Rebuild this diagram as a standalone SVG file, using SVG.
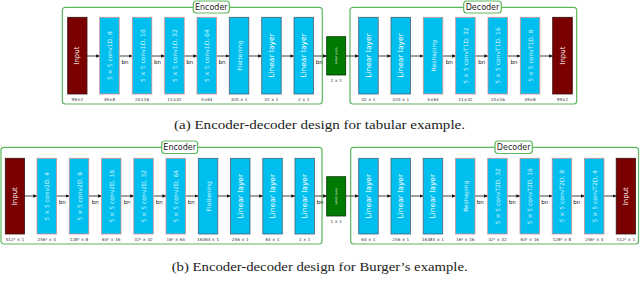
<svg xmlns="http://www.w3.org/2000/svg" width="640" height="292" viewBox="0 0 640 292">
<style>
.frame{fill:none;stroke:#5cb85c;stroke-width:1.2}
.tag{fill:#fff;stroke:#5cb85c;stroke-width:1.2}
.tagt{font-family:"DejaVu Sans","Liberation Sans",sans-serif;font-size:8px;fill:#222;text-anchor:middle}
.inp{fill:#7a0000;stroke:#3a1010;stroke-width:0.8}
.conv{fill:#00bfef;stroke:#d09090;stroke-width:0.8}
.lin{fill:#00bfef;stroke:#506070;stroke-width:0.8}
.lat{fill:#007a00;stroke:#003300;stroke-width:0.8}
.nt{font-family:"DejaVu Sans","Liberation Sans",sans-serif;fill:#fff;text-anchor:middle;dominant-baseline:central}
.ct{font-size:6px;fill:#d8f6ff}
.lt{font-size:7.5px}
.it{font-size:7px}
.st{font-size:2.6px}
.dim{font-family:"DejaVu Sans","Liberation Sans",sans-serif;font-size:4.2px;fill:#333;text-anchor:middle}
.bn{font-family:"DejaVu Sans","Liberation Sans",sans-serif;font-size:5.5px;fill:#111;text-anchor:middle}
.cap{font-family:"Liberation Serif","DejaVu Serif",serif;font-size:13.5px;fill:#222}
.ar{stroke:#444;stroke-width:1;fill:none;marker-end:url(#ah)}
</style>
<defs>
<marker id="ah" markerWidth="4" markerHeight="4" refX="3.6" refY="2" orient="auto" markerUnits="userSpaceOnUse">
<path d="M0,0.3 L3.8,2 L0,3.7 Z" fill="#111"/>
</marker>
</defs>

<!-- ===== (a) ===== -->
<g id="encoderA">
<rect class="frame" x="62.3" y="7.3" width="260" height="96.7" rx="3"/>
<rect class="tag" x="193.3" y="1" width="36" height="12" rx="3"/>
<text class="tagt" x="211.3" y="10">Encoder</text>
</g>
<g id="decoderA">
<rect class="frame" x="350" y="7.3" width="226.7" height="96.7" rx="3"/>
<rect class="tag" x="463.7" y="1" width="37.6" height="12" rx="3"/>
<text class="tagt" x="482.5" y="10">Decoder</text>
</g>

<g id="connectorsA">
<line class="ar" x1="87" y1="56" x2="99.7" y2="56"/>
<line class="ar" x1="119.2" y1="56" x2="132.3" y2="56"/>
<line class="ar" x1="151.8" y1="56" x2="164.7" y2="56"/>
<line class="ar" x1="184.2" y1="56" x2="197" y2="56"/>
<line class="ar" x1="216.5" y1="56" x2="229.3" y2="56"/>
<line class="ar" x1="248.8" y1="56" x2="261.7" y2="56"/>
<line class="ar" x1="281.2" y1="56" x2="294" y2="56"/>
<line class="ar" x1="313.5" y1="56" x2="326.7" y2="56"/>
<line class="ar" x1="345.7" y1="56" x2="358.7" y2="56"/>
<line class="ar" x1="378.2" y1="56" x2="391" y2="56"/>
<line class="ar" x1="410.5" y1="56" x2="423.3" y2="56"/>
<line class="ar" x1="442.8" y1="56" x2="455.7" y2="56"/>
<line class="ar" x1="475.2" y1="56" x2="488" y2="56"/>
<line class="ar" x1="507.5" y1="56" x2="520.3" y2="56"/>
<line class="ar" x1="539.8" y1="56" x2="552.7" y2="56"/>
<text class="bn" x="125" y="63.5">bn</text>
<text class="bn" x="157.5" y="63.5">bn</text>
<text class="bn" x="189.8" y="63.5">bn</text>
<text class="bn" x="222" y="63.5">bn</text>
<text class="bn" x="319.3" y="63.5">bn</text>
<text class="bn" x="449.3" y="63.5">bn</text>
<text class="bn" x="481.7" y="63.5">bn</text>
<text class="bn" x="514" y="63.5">bn</text>
</g>

<g id="a-input"><rect class="inp" x="67.7" y="17.3" width="19.3" height="76.7"/><text class="nt it" transform="translate(77.35,55.6) rotate(-90)">Input</text><text class="dim" x="77.35" y="101">99×2</text></g>
<g id="a-conv8"><rect class="conv" x="99.7" y="17.3" width="19.5" height="76.7"/><text class="nt ct" transform="translate(109.45,55.6) rotate(-90)">5 × 5 conv1D, 8</text><text class="dim" x="109.45" y="101">49×8</text></g>
<g id="a-conv16"><rect class="conv" x="132.3" y="17.3" width="19.5" height="76.7"/><text class="nt ct" transform="translate(142.05,55.6) rotate(-90)">5 × 5 conv1D, 16</text><text class="dim" x="142.05" y="101">24×16</text></g>
<g id="a-conv32"><rect class="conv" x="164.7" y="17.3" width="19.5" height="76.7"/><text class="nt ct" transform="translate(174.45,55.6) rotate(-90)">5 × 5 conv1D, 32</text><text class="dim" x="174.45" y="101">11×32</text></g>
<g id="a-conv64"><rect class="conv" x="197" y="17.3" width="19.5" height="76.7"/><text class="nt ct" transform="translate(206.75,55.6) rotate(-90)">5 × 5 conv1D, 64</text><text class="dim" x="206.75" y="101">5×64</text></g>
<g id="a-flat"><rect class="lin" x="229.3" y="17.3" width="19.5" height="76.7"/><text class="nt ct" transform="translate(239.05,55.6) rotate(-90)">Flattening</text><text class="dim" x="239.05" y="101">320 × 1</text></g>
<g id="a-lin1"><rect class="lin" x="261.7" y="17.3" width="19.5" height="76.7"/><text class="nt lt" transform="translate(271.45,55.6) rotate(-90)">Linear layer</text><text class="dim" x="271.45" y="101">32 × 1</text></g>
<g id="a-lin2"><rect class="lin" x="294" y="17.3" width="19.5" height="76.7"/><text class="nt lt" transform="translate(303.75,55.6) rotate(-90)">Linear layer</text><text class="dim" x="303.75" y="101">2 × 1</text></g>
<g id="a-latent"><rect class="lat" x="326.7" y="36.7" width="19" height="38.3"/><text class="nt st" transform="translate(336.2,55.8) rotate(-90)">Latent space</text><text class="dim" x="336.2" y="81.5">2 × 1</text></g>
<g id="a-dlin1"><rect class="lin" x="358.7" y="17.3" width="19.5" height="76.7"/><text class="nt lt" transform="translate(368.45,55.6) rotate(-90)">Linear layer</text><text class="dim" x="368.45" y="101">32 × 1</text></g>
<g id="a-dlin2"><rect class="lin" x="391" y="17.3" width="19.5" height="76.7"/><text class="nt lt" transform="translate(400.75,55.6) rotate(-90)">Linear layer</text><text class="dim" x="400.75" y="101">320 × 1</text></g>
<g id="a-resh"><rect class="conv" x="423.3" y="17.3" width="19.5" height="76.7"/><text class="nt ct" transform="translate(433.05,55.6) rotate(-90)">Reshaping</text><text class="dim" x="433.05" y="101">5×64</text></g>
<g id="a-ct32"><rect class="conv" x="455.7" y="17.3" width="19.5" height="76.7"/><text class="nt ct" transform="translate(465.45,55.6) rotate(-90)">5 × 5 convT1D, 32</text><text class="dim" x="465.45" y="101">11×32</text></g>
<g id="a-ct16"><rect class="conv" x="488" y="17.3" width="19.5" height="76.7"/><text class="nt ct" transform="translate(497.75,55.6) rotate(-90)">5 × 5 convT1D, 16</text><text class="dim" x="497.75" y="101">24×16</text></g>
<g id="a-ct8"><rect class="conv" x="520.3" y="17.3" width="19.5" height="76.7"/><text class="nt ct" transform="translate(530.05,55.6) rotate(-90)">5 × 5 convT1D, 8</text><text class="dim" x="530.05" y="101">49×8</text></g>
<g id="a-output"><rect class="inp" x="552.7" y="17.3" width="19.6" height="76.7"/><text class="nt it" transform="translate(562.5,55.6) rotate(-90)">Input</text><text class="dim" x="562.5" y="101">99×2</text></g>

<text class="cap" x="174" y="129" textLength="291" lengthAdjust="spacingAndGlyphs">(a) Encoder-decoder design for tabular example.</text>

<!-- ===== (b) ===== -->
<g id="encoderB">
<rect class="frame" x="1" y="147.3" width="321" height="96.7" rx="3"/>
<rect class="tag" x="161.7" y="141" width="36" height="12.5" rx="3"/>
<text class="tagt" x="179.7" y="150.3">Encoder</text>
</g>
<g id="decoderB">
<rect class="frame" x="350.7" y="147.3" width="287.8" height="96.7" rx="3"/>
<rect class="tag" x="495" y="141" width="37.3" height="12.5" rx="3"/>
<text class="tagt" x="513.7" y="150.3">Decoder</text>
</g>

<g id="connectorsB">
<line class="ar" x1="24.5" y1="196" x2="37" y2="196"/>
<line class="ar" x1="56.5" y1="196" x2="69.3" y2="196"/>
<line class="ar" x1="88.8" y1="196" x2="101.5" y2="196"/>
<line class="ar" x1="121" y1="196" x2="133.8" y2="196"/>
<line class="ar" x1="153.3" y1="196" x2="166" y2="196"/>
<line class="ar" x1="185.5" y1="196" x2="198.3" y2="196"/>
<line class="ar" x1="217.8" y1="196" x2="230.5" y2="196"/>
<line class="ar" x1="250" y1="196" x2="262.8" y2="196"/>
<line class="ar" x1="282.3" y1="196" x2="295" y2="196"/>
<line class="ar" x1="314.5" y1="196" x2="326.7" y2="196"/>
<line class="ar" x1="345.7" y1="196" x2="358.7" y2="196"/>
<line class="ar" x1="378.2" y1="196" x2="391" y2="196"/>
<line class="ar" x1="410.5" y1="196" x2="423.2" y2="196"/>
<line class="ar" x1="442.7" y1="196" x2="455.5" y2="196"/>
<line class="ar" x1="475" y1="196" x2="487.7" y2="196"/>
<line class="ar" x1="507.2" y1="196" x2="520" y2="196"/>
<line class="ar" x1="539.5" y1="196" x2="552.2" y2="196"/>
<line class="ar" x1="571.7" y1="196" x2="584.5" y2="196"/>
<line class="ar" x1="604" y1="196" x2="616.2" y2="196"/>
<text class="bn" x="62.3" y="203.5">bn</text>
<text class="bn" x="95.3" y="203.5">bn</text>
<text class="bn" x="127" y="203.5">bn</text>
<text class="bn" x="159.3" y="203.5">bn</text>
<text class="bn" x="191.3" y="203.5">bn</text>
<text class="bn" x="320" y="203.5">bn</text>
<text class="bn" x="480.3" y="203.5">bn</text>
<text class="bn" x="512.3" y="203.5">bn</text>
<text class="bn" x="544.7" y="203.5">bn</text>
<text class="bn" x="576.7" y="203.5">bn</text>
</g>

<g id="b-input"><rect class="inp" x="5.3" y="158.3" width="19.2" height="75.7"/><text class="nt it" transform="translate(14.9,196.2) rotate(-90)">Input</text><text class="dim" x="14.9" y="241">512² × 1</text></g>
<g id="b-conv4"><rect class="conv" x="37" y="158.3" width="19.5" height="75.7"/><text class="nt ct" transform="translate(46.75,196.2) rotate(-90)">5 × 5 conv2D, 4</text><text class="dim" x="46.75" y="241">256² × 4</text></g>
<g id="b-conv8"><rect class="conv" x="69.3" y="158.3" width="19.5" height="75.7"/><text class="nt ct" transform="translate(79.05,196.2) rotate(-90)">5 × 5 conv2D, 8</text><text class="dim" x="79.05" y="241">128² × 8</text></g>
<g id="b-conv16"><rect class="conv" x="101.5" y="158.3" width="19.5" height="75.7"/><text class="nt ct" transform="translate(111.25,196.2) rotate(-90)">5 × 5 conv2D, 16</text><text class="dim" x="111.25" y="241">64² × 16</text></g>
<g id="b-conv32"><rect class="conv" x="133.8" y="158.3" width="19.5" height="75.7"/><text class="nt ct" transform="translate(143.55,196.2) rotate(-90)">5 × 5 conv2D, 32</text><text class="dim" x="143.55" y="241">32² × 32</text></g>
<g id="b-conv64"><rect class="conv" x="166" y="158.3" width="19.5" height="75.7"/><text class="nt ct" transform="translate(175.75,196.2) rotate(-90)">5 × 5 conv2D, 64</text><text class="dim" x="175.75" y="241">16² × 64</text></g>
<g id="b-flat"><rect class="lin" x="198.3" y="158.3" width="19.5" height="75.7"/><text class="nt ct" transform="translate(208.05,196.2) rotate(-90)">Flattening</text><text class="dim" x="208.05" y="241">16384 × 1</text></g>
<g id="b-lin1"><rect class="lin" x="230.5" y="158.3" width="19.5" height="75.7"/><text class="nt lt" transform="translate(240.25,196.2) rotate(-90)">Linear layer</text><text class="dim" x="240.25" y="241">256 × 1</text></g>
<g id="b-lin2"><rect class="lin" x="262.8" y="158.3" width="19.5" height="75.7"/><text class="nt lt" transform="translate(272.55,196.2) rotate(-90)">Linear layer</text><text class="dim" x="272.55" y="241">64 × 1</text></g>
<g id="b-lin3"><rect class="lin" x="295" y="158.3" width="19.5" height="75.7"/><text class="nt lt" transform="translate(304.75,196.2) rotate(-90)">Linear layer</text><text class="dim" x="304.75" y="241">1 × 1</text></g>
<g id="b-latent"><rect class="lat" x="326.7" y="176.7" width="19" height="39.3"/><text class="nt st" transform="translate(336.2,196.3) rotate(-90)">Latent space</text><text class="dim" x="336.2" y="222.5">1 × 1</text></g>
<g id="b-dlin1"><rect class="lin" x="358.7" y="158.3" width="19.5" height="75.7"/><text class="nt lt" transform="translate(368.45,196.2) rotate(-90)">Linear layer</text><text class="dim" x="368.45" y="241">64 × 1</text></g>
<g id="b-dlin2"><rect class="lin" x="391" y="158.3" width="19.5" height="75.7"/><text class="nt lt" transform="translate(400.75,196.2) rotate(-90)">Linear layer</text><text class="dim" x="400.75" y="241">256 × 1</text></g>
<g id="b-dlin3"><rect class="lin" x="423.2" y="158.3" width="19.5" height="75.7"/><text class="nt lt" transform="translate(432.95,196.2) rotate(-90)">Linear layer</text><text class="dim" x="432.95" y="241">16384 × 1</text></g>
<g id="b-resh"><rect class="conv" x="455.5" y="158.3" width="19.5" height="75.7"/><text class="nt ct" transform="translate(465.25,196.2) rotate(-90)">Reshaping</text><text class="dim" x="465.25" y="241">16² × 16</text></g>
<g id="b-ct32"><rect class="conv" x="487.7" y="158.3" width="19.5" height="75.7"/><text class="nt ct" transform="translate(497.45,196.2) rotate(-90)">5 × 5 convT2D, 32</text><text class="dim" x="497.45" y="241">32² × 32</text></g>
<g id="b-ct16"><rect class="conv" x="520" y="158.3" width="19.5" height="75.7"/><text class="nt ct" transform="translate(529.75,196.2) rotate(-90)">5 × 5 convT2D, 16</text><text class="dim" x="529.75" y="241">64² × 16</text></g>
<g id="b-ct8"><rect class="conv" x="552.2" y="158.3" width="19.5" height="75.7"/><text class="nt ct" transform="translate(561.95,196.2) rotate(-90)">5 × 5 convT2D, 8</text><text class="dim" x="561.95" y="241">128² × 8</text></g>
<g id="b-ct4"><rect class="conv" x="584.5" y="158.3" width="19.5" height="75.7"/><text class="nt ct" transform="translate(594.25,196.2) rotate(-90)">5 × 5 convT2D, 4</text><text class="dim" x="594.25" y="241">256² × 4</text></g>
<g id="b-output"><rect class="inp" x="616.2" y="158.3" width="19.3" height="75.7"/><text class="nt it" transform="translate(625.85,196.2) rotate(-90)">Input</text><text class="dim" x="625.85" y="241">512² × 1</text></g>

<text class="cap" x="171.7" y="271" textLength="296" lengthAdjust="spacingAndGlyphs">(b) Encoder-decoder design for Burger’s example.</text>
</svg>
